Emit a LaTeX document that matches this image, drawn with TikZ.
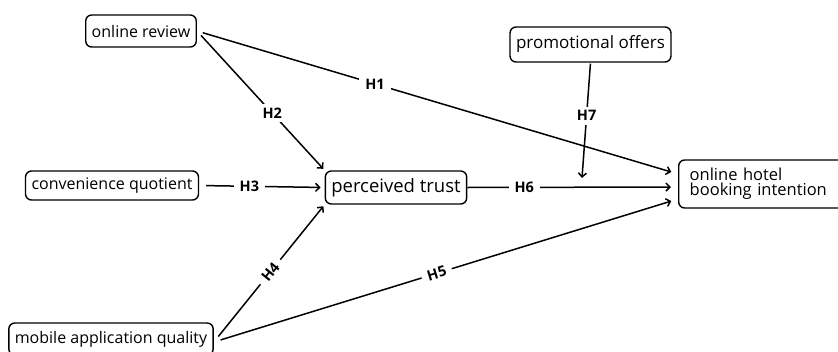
\documentclass[tikz,border=0pt]{standalone}
\usepackage{fontspec}
\setmainfont{Open Sans}
\usetikzlibrary{arrows.meta}

\begin{document}
\begin{tikzpicture}[x=1pt,y=-1pt,
  box/.style={draw,line width=1.4pt,rounded corners=6pt,inner xsep=6pt,font=\fontsize{16}{15}\selectfont},
  hyp/.style={fill=white,inner xsep=6pt,inner ysep=4pt,font=\bfseries\fontsize{14.5}{15}\selectfont},
  link/.style={line width=1.5pt,-{Straight Barb[length=4pt,width=8pt]}}]
\useasboundingbox (0,0) rectangle (838,351);
\node[box,minimum height=32pt] (review) at (141,31) {online review};
\node[box,minimum height=29pt] (conv) at (112,185.5) {convenience quotient};
\node[box,minimum height=32pt] (mobile) at (111,339) {mobile application quality};
\node[box,minimum height=33pt,font=\fontsize{18.5}{18}\selectfont] (trust) at (396,187.5) {perceived trust};
\node[box,minimum height=35pt,font=\fontsize{17}{17}\selectfont] (offers) at (590.5,44.5) {promotional offers};
\node[box,minimum height=48pt,align=left,anchor=west,inner xsep=11pt,text width=230pt,font=\fontsize{16.5}{15}\selectfont] (intent) at (678,184) {online hotel\\booking intention};
\coordinate (mod) at (582,178);
% paths into perceived trust
\draw[link,shorten <=6pt,shorten >=2pt] (review.east) -- node[hyp,pos=0.59] {H2} (trust.north west);
\draw[link,shorten <=7pt,shorten >=4pt] (conv.east) -- node[hyp,pos=0.4] {H3} (trust.west);
\draw[link,shorten <=7pt,shorten >=2pt] ([yshift=-3pt]mobile.east) -- node[hyp,pos=0.51,sloped] {H4} (trust.south west);
% paths into booking intention
\draw[link,shorten <=6pt,shorten >=7pt] (review.east) -- node[hyp,pos=0.37] {H1} ([yshift=10pt]intent.west);
\draw[link,shorten <=7pt,shorten >=7pt] ([yshift=-3pt]mobile.east) -- node[hyp,pos=0.48,sloped] {H5} ([yshift=-15pt]intent.west);
\draw[link,shorten >=7pt] (trust.east) -- node[hyp,pos=0.27] {H6} ([yshift=-3pt]intent.west);
\draw[link,shorten <=1pt] (offers.south) -- node[hyp,pos=0.46] {H7} (mod);
\end{tikzpicture}
\end{document}
